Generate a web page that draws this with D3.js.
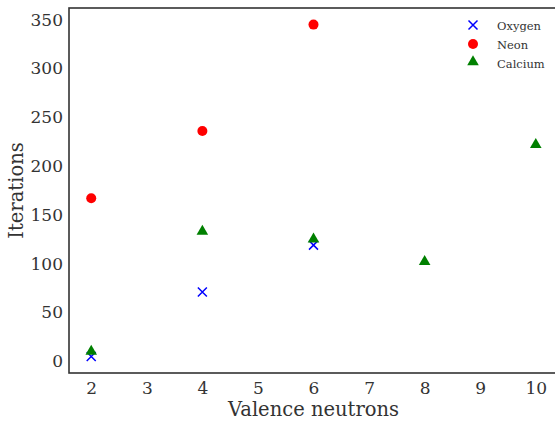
<!DOCTYPE html>
<html>
<head>
<meta charset="utf-8">
<script src="https://cdn.jsdelivr.net/npm/d3@7"></script>
<style>
  body { margin: 0; background: #fff; }
  svg text { font-family: "DejaVu Serif", serif !important; fill: #333; }
</style>
</head>
<body>
<div id="chart"></div>
<script>
// data
var oxygenX = [2, 4, 6];
var oxygenY = [5, 71, 119];
var neonX = [2, 4, 6];
var neonY = [167, 236, 345];
var calciumX = [2, 4, 6, 8, 10];
var calciumY = [9, 132, 124, 101, 221];
var xTicks = [2, 3, 4, 5, 6, 7, 8, 9, 10];
var yTicks = [0, 50, 100, 150, 200, 250, 300, 350];

var svgWidth = 555;
var svgHeight = 421;
var margin = { top: 8, right: -3, bottom: 48, left: 69 };
var width = svgWidth - margin.left - margin.right;
var height = svgHeight - margin.top - margin.bottom;

var svg = d3.select("#chart")
  .append("svg")
  .attr("width", svgWidth)
  .attr("height", svgHeight);

var chartGroup = svg.append("g")
  .attr("transform", `translate(${margin.left}, ${margin.top})`);

var xScale = d3.scaleLinear().domain([1.6, 10.4]).range([0, width]);
var yScale = d3.scaleLinear().domain([-12, 362]).range([height, 0]);

// axes, no tick marks
var bottomAxis = d3.axisBottom(xScale).tickValues(xTicks).tickSize(0).tickPadding(9);
var leftAxis = d3.axisLeft(yScale).tickValues(yTicks).tickSize(0).tickPadding(6);

var xg = chartGroup.append("g")
  .attr("transform", `translate(0, ${height})`)
  .call(bottomAxis);
var yg = chartGroup.append("g").call(leftAxis);
[xg, yg].forEach(function(g) {
  g.attr("font-family", null);
  g.select(".domain").remove();
  g.selectAll("text").attr("font-size", 17).attr("fill", "#333");
});

// frame
chartGroup.append("rect")
  .attr("width", width)
  .attr("height", height)
  .attr("fill", "none")
  .attr("stroke", "#333")
  .attr("stroke-width", 1.6);

var plot = chartGroup.append("g");

var oxy = oxygenX.map((x, i) => ({ x: x, y: oxygenY[i] }));
var neon = neonX.map((x, i) => ({ x: x, y: neonY[i] }));
var cal = calciumX.map((x, i) => ({ x: x, y: calciumY[i] }));

var crossPath = "M-4.5,-4.5L4.5,4.5M-4.5,4.5L4.5,-4.5";
var triPath = d3.symbol().type(d3.symbolTriangle).size(58)();

plot.selectAll(".oxy").data(oxy).enter().append("path")
  .attr("class", "oxy")
  .attr("d", crossPath)
  .attr("transform", d => `translate(${xScale(d.x)},${yScale(d.y)})`)
  .attr("stroke", "blue").attr("stroke-width", 1.5).attr("fill", "none");

plot.selectAll(".neon").data(neon).enter().append("circle")
  .attr("class", "neon")
  .attr("cx", d => xScale(d.x))
  .attr("cy", d => yScale(d.y))
  .attr("r", 5)
  .attr("fill", "red");

plot.selectAll(".cal").data(cal).enter().append("path")
  .attr("class", "cal")
  .attr("d", triPath)
  .attr("transform", d => `translate(${xScale(d.x)},${yScale(d.y) - 1})`)
  .attr("fill", "green");

// legend
var legend = svg.append("g").attr("transform", "translate(473, 25)");
var items = [
  { name: "Oxygen", kind: "x" },
  { name: "Neon", kind: "o" },
  { name: "Calcium", kind: "^" }
];
items.forEach(function(it, i) {
  var row = legend.append("g").attr("transform", `translate(0, ${i * 19})`);
  if (it.kind === "x") {
    row.append("path").attr("d", crossPath).attr("stroke", "blue")
      .attr("stroke-width", 1.5).attr("fill", "none");
  } else if (it.kind === "o") {
    row.append("circle").attr("r", 5).attr("fill", "red");
  } else {
    row.append("path").attr("d", triPath).attr("transform", "translate(0,-1)").attr("fill", "green");
  }
  row.append("text").attr("x", 24).attr("y", 4.5)
    .attr("font-size", 11.5).text(it.name);
});

// axis labels
svg.append("text")
  .attr("x", margin.left + width / 2)
  .attr("y", 416)
  .attr("text-anchor", "middle")
  .attr("font-size", 19.5)
  .text("Valence neutrons");

svg.append("text")
  .attr("transform", `translate(23, ${margin.top + height / 2}) rotate(-90)`)
  .attr("text-anchor", "middle")
  .attr("font-size", 19.5)
  .text("Iterations");
</script>
</body>
</html>
